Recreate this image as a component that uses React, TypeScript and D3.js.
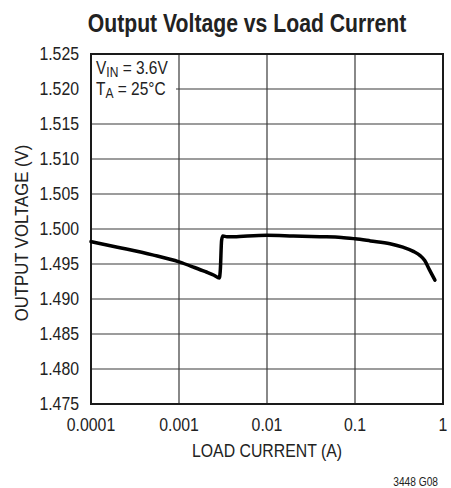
import { useRef, useEffect } from "react";
import * as d3 from "d3";

// load current (A) and output voltage (V)
const loadCurrent = [
  0.0001, 0.0002, 0.0005, 0.001, 0.0015, 0.002, 0.0025, 0.00287, 0.00295,
  0.00305, 0.00315, 0.0035, 0.0045, 0.006, 0.01, 0.02, 0.04, 0.07, 0.1, 0.15,
  0.25, 0.35, 0.46, 0.55, 0.62, 0.7, 0.81,
];
const outputVoltage = [
  1.4982, 1.4974, 1.4963, 1.4953, 1.4945, 1.4939, 1.4934, 1.493, 1.4942,
  1.4984, 1.499, 1.4989, 1.4989, 1.499, 1.4991, 1.499, 1.4989, 1.4988, 1.4986,
  1.4983, 1.4979, 1.4974, 1.4968, 1.4962, 1.4955, 1.4942, 1.4927,
];

const xTicks = [0.0001, 0.001, 0.01, 0.1, 1];
const xTickLabels = ["0.0001", "0.001", "0.01", "0.1", "1"];
const yTicks = [1.475, 1.48, 1.485, 1.49, 1.495, 1.5, 1.505, 1.51, 1.515, 1.52, 1.525];

const FONT = "'Liberation Sans', Arial, sans-serif";
const SQUEEZE = 0.88; // no condensed face installed, so scale x

export default function App() {
  const svgRef = useRef<SVGSVGElement>(null);

  useEffect(() => {
    if (!svgRef.current) return;
    const svg = d3.select(svgRef.current);
    svg.selectAll("*").remove();

    const width = 451;
    const height = 488;
    const margin = { top: 54, right: 8, bottom: 84, left: 91 };
    const innerWidth = width - margin.left - margin.right;
    const innerHeight = height - margin.top - margin.bottom;

    const x = d3.scaleLog().domain([0.0001, 1]).range([0, innerWidth]);
    const y = d3.scaleLinear().domain([1.475, 1.525]).range([innerHeight, 0]);

    const g = svg
      .append("g")
      .attr("transform", `translate(${margin.left},${margin.top})`);

    // Grid
    g.selectAll(".hgrid")
      .data(yTicks)
      .join("line")
      .attr("x1", 0)
      .attr("x2", innerWidth)
      .attr("y1", (d) => y(d))
      .attr("y2", (d) => y(d))
      .attr("stroke", "#3a3a3a")
      .attr("stroke-width", 1.2);

    g.selectAll(".vgrid")
      .data(xTicks)
      .join("line")
      .attr("x1", (d) => x(d))
      .attr("x2", (d) => x(d))
      .attr("y1", 0)
      .attr("y2", innerHeight)
      .attr("stroke", "#3a3a3a")
      .attr("stroke-width", 1.2);

    // Legend background
    g.append("rect")
      .attr("x", 1)
      .attr("y", 1)
      .attr("width", 84)
      .attr("height", 46)
      .attr("fill", "#fff");

    g.append("rect")
      .attr("x", 0)
      .attr("y", 0)
      .attr("width", innerWidth)
      .attr("height", innerHeight)
      .attr("fill", "none")
      .attr("stroke", "#1a1a1a")
      .attr("stroke-width", 2);

    // Curve
    const pts = loadCurrent.map((c, i) => ({ c, v: outputVoltage[i] }));
    const line = d3
      .line<(typeof pts)[0]>()
      .x((d) => x(d.c))
      .y((d) => y(d.v))
      .curve(d3.curveMonotoneX);

    g.append("path")
      .datum(pts)
      .attr("d", line)
      .attr("fill", "none")
      .attr("stroke", "#000")
      .attr("stroke-width", 3.5)
      .attr("stroke-linejoin", "round")
      .attr("stroke-linecap", "round");

    // Tick labels
    g.selectAll(".ylab")
      .data(yTicks)
      .join("text")
      .attr("transform", (d) => `translate(-12,${y(d)}) scale(${SQUEEZE},1)`)
      .attr("dy", "0.36em")
      .attr("text-anchor", "end")
      .attr("font-family", FONT)
      .attr("font-size", 18)
      .attr("fill", "#222")
      .text((d) => d3.format(".3f")(d));

    g.selectAll(".xlab")
      .data(xTicks)
      .join("text")
      .attr("transform", (d) => `translate(${x(d)},${innerHeight + 27}) scale(${SQUEEZE},1)`)
      .attr("text-anchor", "middle")
      .attr("font-family", FONT)
      .attr("font-size", 18)
      .attr("fill", "#222")
      .text((d, i) => xTickLabels[i]);

    // Legend text
    const leg1 = g
      .append("text")
      .attr("transform", `translate(5,20) scale(0.86,1)`)
      .attr("font-family", FONT)
      .attr("font-size", 18)
      .attr("fill", "#222");
    leg1.append("tspan").text("V");
    leg1.append("tspan").attr("dy", 3).attr("font-size", 14).text("IN");
    leg1.append("tspan").attr("dy", -3).text(" = 3.6V");

    const leg2 = g
      .append("text")
      .attr("transform", `translate(5,41) scale(0.86,1)`)
      .attr("font-family", FONT)
      .attr("font-size", 18)
      .attr("fill", "#222");
    leg2.append("tspan").text("T");
    leg2.append("tspan").attr("dy", 3).attr("font-size", 14).text("A");
    leg2.append("tspan").attr("dy", -3).text(" = 25°C");

    // Titles
    svg
      .append("text")
      .attr("transform", "translate(247,32) scale(0.815,1)")
      .attr("text-anchor", "middle")
      .attr("font-family", FONT)
      .attr("font-size", 26)
      .attr("font-weight", "bold")
      .attr("fill", "#222")
      .text("Output Voltage vs Load Current");

    svg
      .append("text")
      .attr("transform", `translate(${margin.left + innerWidth / 2},457) scale(0.88,1)`)
      .attr("text-anchor", "middle")
      .attr("font-family", FONT)
      .attr("font-size", 18)
      .attr("fill", "#222")
      .text("LOAD CURRENT (A)");

    svg
      .append("text")
      .attr("transform", "translate(28,233) rotate(-90) scale(0.93,1)")
      .attr("text-anchor", "middle")
      .attr("font-family", FONT)
      .attr("font-size", 18)
      .attr("fill", "#222")
      .text("OUTPUT VOLTAGE (V)");

    svg
      .append("text")
      .attr("transform", "translate(438,486) scale(0.85,1)")
      .attr("text-anchor", "end")
      .attr("font-family", FONT)
      .attr("font-size", 12)
      .attr("fill", "#222")
      .text("3448 G08");
  }, []);

  return (
    <svg
      ref={svgRef}
      width={451}
      height={488}
      style={{ position: "absolute", left: 0, top: 0, background: "#fff" }}
    />
  );
}
